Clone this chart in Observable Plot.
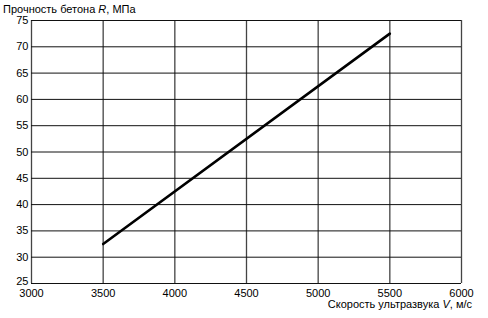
<!DOCTYPE html>
<html><head><meta charset="utf-8">
<script src="https://cdn.jsdelivr.net/npm/d3@7"></script>
<script src="https://cdn.jsdelivr.net/npm/@observablehq/plot@0.6"></script>
<style>body{margin:0;background:#fff}</style>
</head><body><div id="chart"></div>
<script>
const xTicks = [3000, 3500, 4000, 4500, 5000, 5500, 6000];
const yTicks = [25, 30, 35, 40, 45, 50, 55, 60, 65, 70, 75];
const speed = [3500, 5500];
const strength = [32.5, 72.5];
const data = speed.map((v, i) => ({v, r: strength[i]}));

const chart = Plot.plot({
  width: 488, height: 318,
  marginLeft: 31, marginRight: 27, marginTop: 20, marginBottom: 35,
  style: {fontFamily: "'Liberation Sans', Arial, sans-serif", fontSize: "11px", color: "#000", background: "#fff"},
  x: {domain: [3000, 6000], label: null},
  y: {domain: [25, 75], label: null},
  marks: [
    Plot.gridX(xTicks, {stroke: "#444", strokeOpacity: 1, strokeWidth: 1.3}),
    Plot.gridY(yTicks, {stroke: "#111", strokeOpacity: 1, strokeWidth: 1}),
    Plot.axisX(xTicks, {tickSize: 0, tickPadding: 6, tickFormat: d => String(d), label: null}),
    Plot.axisY(yTicks.slice(1), {tickSize: 0, tickPadding: 3, tickFormat: d => String(d), label: null}),
    Plot.axisY(yTicks.slice(0, 1), {tickSize: 0, tickPadding: 3, dy: -2.5, tickFormat: d => String(d), label: null}),
    Plot.line(data, {x: "v", y: "r", stroke: "#000", strokeWidth: 2.6})
  ]
});
const svg = d3.select(chart);
const t1 = svg.append("text").attr("x", 3).attr("y", 13).attr("text-anchor", "start").attr("font-size", 11).attr("fill", "#000");
t1.append("tspan").text("Прочность бетона ");
t1.append("tspan").attr("font-style", "italic").text("R");
t1.append("tspan").text(", МПа");
const t2 = svg.append("text").attr("x", 472).attr("y", 308).attr("text-anchor", "end").attr("font-size", 11).attr("fill", "#000");
t2.append("tspan").text("Скорость ультразвука ");
t2.append("tspan").attr("font-style", "italic").text("V");
t2.append("tspan").text(", м/с");
document.getElementById("chart").appendChild(chart);
</script>
</body></html>
